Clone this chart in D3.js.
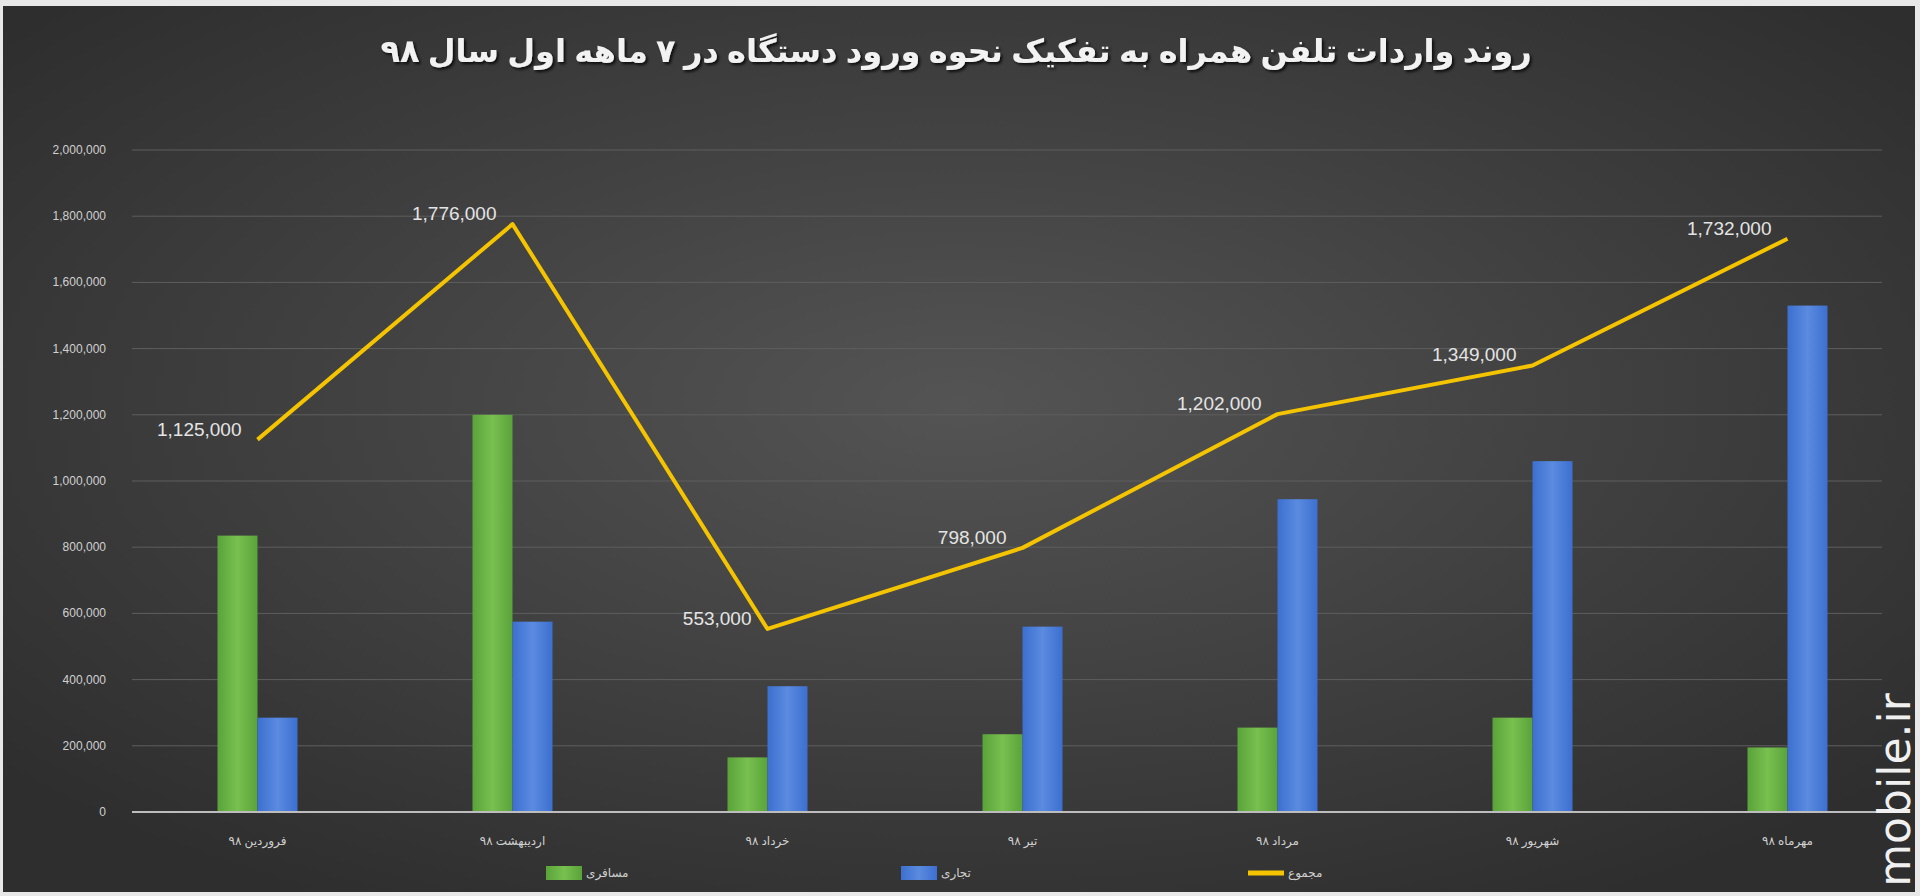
<!DOCTYPE html>
<html><head><meta charset="utf-8">
<script src="https://cdn.jsdelivr.net/npm/d3@7"></script>
<style>body{margin:0;background:#fff}svg{display:block}</style>
</head><body>
<svg id="c" width="1920" height="896"></svg>
<script>
const categories = ["فروردین ۹۸","اردیبهشت ۹۸","خرداد ۹۸","تیر ۹۸","مرداد ۹۸","شهریور ۹۸","مهرماه ۹۸"];
const passenger = [835000,1200000,165000,235000,255000,285000,195000];
const commercial = [285000,575000,380000,560000,945000,1060000,1530000];
const total = [1125000,1776000,553000,798000,1202000,1349000,1732000];
const yTicks = [0,200000,400000,600000,800000,1000000,1200000,1400000,1600000,1800000,2000000];
const legendLabels = ["مسافری","تجاری","مجموع"];

const svg = d3.select("#c");
const defs = svg.append("defs");
const rg = defs.append("radialGradient").attr("id","bg").attr("cx","50%").attr("cy","45%").attr("r","65%");
rg.append("stop").attr("offset","0%").attr("stop-color","#545454");
rg.append("stop").attr("offset","100%").attr("stop-color","#2e2e2e");
const gG = defs.append("linearGradient").attr("id","gG").attr("x1",0).attr("x2",1);
gG.append("stop").attr("offset","0%").attr("stop-color","#5aa33a");
gG.append("stop").attr("offset","50%").attr("stop-color","#78c04f");
gG.append("stop").attr("offset","100%").attr("stop-color","#5aa33a");
const gB = defs.append("linearGradient").attr("id","gB").attr("x1",0).attr("x2",1);
gB.append("stop").attr("offset","0%").attr("stop-color","#3c6fd0");
gB.append("stop").attr("offset","50%").attr("stop-color","#5b8be0");
gB.append("stop").attr("offset","100%").attr("stop-color","#3c6fd0");
const f = defs.append("filter").attr("id","sh");
f.append("feDropShadow").attr("dx",2).attr("dy",2).attr("stdDeviation",1.5).attr("flood-color","#000").attr("flood-opacity",0.8);

svg.append("rect").attr("x",0).attr("y",0).attr("width",1920).attr("height",896).attr("fill","#e8e8e8");
svg.append("rect").attr("x",3).attr("y",6).attr("width",1912).attr("height",886).attr("fill","url(#bg)");

const L=132,R=1882,T=150,B=812;
const x = d3.scaleBand().domain(categories).range([130,1915]).paddingInner(0).paddingOuter(0);
const y = d3.scaleLinear().domain([0,2000000]).range([B,T]);
const bw = 40;

const g = svg.append("g");
g.selectAll(".grid").data(yTicks.slice(1)).join("line")
 .attr("x1",L).attr("x2",R).attr("y1",d=>y(d)).attr("y2",d=>y(d))
 .attr("stroke","#5e5e5e").attr("stroke-width",1);
g.selectAll(".yl").data(yTicks).join("text")
 .attr("x",L-26).attr("y",d=>y(d)+4).attr("text-anchor","end")
 .attr("fill","#d0d0d0").attr("font-size",12).attr("font-family","Liberation Sans Narrow, Arial")
 .text(d=>d3.format(",")(d));

const cx = d=>x(d)+x.bandwidth()/2;
g.selectAll(".bp").data(categories).join("rect")
 .attr("x",d=>cx(d)-bw).attr("width",bw)
 .attr("y",(d,i)=>y(passenger[i])).attr("height",(d,i)=>B-y(passenger[i]))
 .attr("fill","url(#gG)");
g.selectAll(".bc").data(categories).join("rect")
 .attr("x",d=>cx(d)).attr("width",bw)
 .attr("y",(d,i)=>y(commercial[i])).attr("height",(d,i)=>B-y(commercial[i]))
 .attr("fill","url(#gB)");
g.append("line").attr("x1",L).attr("x2",R).attr("y1",B).attr("y2",B).attr("stroke","#bdbdbd").attr("stroke-width",2);

const line = d3.line().x((d,i)=>cx(categories[i])).y(d=>y(d));
g.append("path").datum(total).attr("d",line).attr("fill","none").attr("stroke","#f5c400").attr("stroke-width",4).attr("stroke-linejoin","round");
g.selectAll(".tl").data(total).join("text")
 .attr("x",(d,i)=>cx(categories[i])-16).attr("y",d=>y(d)-4).attr("text-anchor","end")
 .attr("fill","#e4e4e4").attr("font-size",19).attr("font-family","Liberation Sans Narrow, Arial")
 .text(d=>d3.format(",")(d));

g.selectAll(".xl").data(categories).join("text")
 .attr("x",d=>cx(d)).attr("y",B+33).attr("text-anchor","middle").attr("direction","rtl")
 .attr("fill","#d0d0d0").attr("font-size",12).attr("font-family","Noto Sans, DejaVu Sans")
 .text(d=>d);

const lg = [{c:"url(#gG)",x:546,h:14},{c:"url(#gB)",x:901,h:14},{c:"#f5c400",x:1248,h:5}];
lg.forEach((o,i)=>{
  svg.append("rect").attr("x",o.x).attr("y",873-o.h/2).attr("width",36).attr("height",o.h).attr("fill",o.c);
  svg.append("text").attr("x",o.x+40).attr("y",877).attr("fill","#d0d0d0").attr("font-size",12)
   .attr("font-family","Noto Sans, DejaVu Sans").attr("direction","rtl").attr("text-anchor","end").text(legendLabels[i]);
});

svg.append("text").attr("x",956).attr("y",62).attr("text-anchor","middle").attr("direction","rtl")
 .attr("fill","#f2f2f2").attr("font-size",32).attr("font-weight","bold").attr("filter","url(#sh)")
 .attr("font-family","Noto Sans, DejaVu Sans")
 .text("روند واردات تلفن همراه به تفکیک نحوه ورود دستگاه در ۷ ماهه اول سال ۹۸");

svg.append("text").attr("transform","translate(1910,790) rotate(-90)").attr("text-anchor","middle")
 .attr("fill","#f0f0f0").attr("font-size",44).attr("font-family","DejaVu Sans, Arial").text("mobile.ir");
</script>
</body></html>
